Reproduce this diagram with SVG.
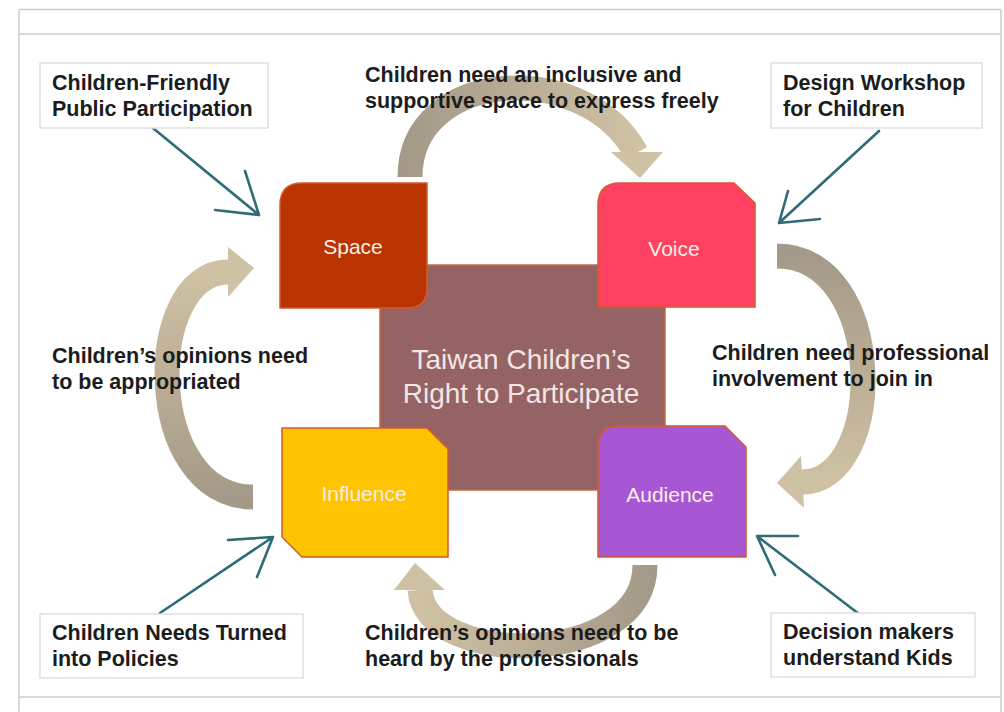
<svg xmlns="http://www.w3.org/2000/svg" width="1004" height="712" viewBox="0 0 1004 712">
  <defs>
    <style>
      .frame { stroke: #cccccc; stroke-width: 1.5; fill: none; }
      .box { fill: #ffffff; stroke: #e0e0e0; stroke-width: 1.5; }
      .lbl { font-family: "Liberation Sans", Arial, sans-serif; font-weight: bold; font-size: 21.5px; fill: #1c1c1c; }
      .nlbl { font-family: "Liberation Sans", Arial, sans-serif; font-size: 21px; fill: #fbeee8; text-anchor: middle; }
      .clbl { font-family: "Liberation Sans", Arial, sans-serif; font-size: 28px; fill: #f3e6e6; text-anchor: middle; }
      .node { stroke: #d45a30; stroke-width: 1.5; }
      .band { fill: none; stroke-width: 25; stroke-linecap: butt; }
      .head { fill: #cfc1a3; }
      .teal { fill: none; stroke: #2f6c76; stroke-width: 2.6; stroke-linecap: round; stroke-linejoin: round; }
    </style>
    <linearGradient id="gTop" gradientUnits="userSpaceOnUse" x1="410" y1="0" x2="636" y2="0">
      <stop offset="0" stop-color="#a59a89"/>
      <stop offset="1" stop-color="#cfc1a3"/>
    </linearGradient>
    <linearGradient id="gRight" gradientUnits="userSpaceOnUse" x1="0" y1="256" x2="0" y2="482">
      <stop offset="0" stop-color="#a59a89"/>
      <stop offset="1" stop-color="#cfc1a3"/>
    </linearGradient>
    <linearGradient id="gBottom" gradientUnits="userSpaceOnUse" x1="645" y1="0" x2="420" y2="0">
      <stop offset="0" stop-color="#a59a89"/>
      <stop offset="1" stop-color="#cfc1a3"/>
    </linearGradient>
    <linearGradient id="gLeft" gradientUnits="userSpaceOnUse" x1="0" y1="497" x2="0" y2="272">
      <stop offset="0" stop-color="#a59a89"/>
      <stop offset="1" stop-color="#cfc1a3"/>
    </linearGradient>
  </defs>

  <rect x="0" y="0" width="1004" height="712" fill="#ffffff"/>

  <g id="frame">
    <line class="frame" x1="19" y1="9.5" x2="1001" y2="9.5"/>
    <line class="frame" x1="19" y1="34" x2="1001" y2="34"/>
    <line class="frame" x1="19" y1="697" x2="1001" y2="697"/>
    <line class="frame" x1="19" y1="9.5" x2="19" y2="712"/>
    <line class="frame" x1="1001" y1="9.5" x2="1001" y2="712"/>
  </g>

  <g id="center">
    <rect x="380" y="265" width="285" height="225" fill="#956363" stroke="#c8683c" stroke-width="1.5"/>
    <text class="clbl" x="521" y="369">Taiwan Children’s</text>
    <text class="clbl" x="521" y="403">Right to Participate</text>
  </g>

  <g id="connectors">
    <g id="cycle">
      <path class="band" stroke="url(#gTop)" d="M410,177 C410,68 585,58 636,153"/>
      <polygon class="head" points="611,152 663,152 640,178"/>
      <path class="band" stroke="url(#gRight)" d="M777,256 C887,256 887,482 802,482"/>
      <polygon class="head" points="801,456 804,508 777,483"/>
      <path class="band" stroke="url(#gBottom)" d="M645,565 C645,668 425,668 420,590"/>
      <polygon class="head" points="394,590 445,590 415,563"/>
      <path class="band" stroke="url(#gLeft)" d="M253,497 C143,497 143,272 228,272"/>
      <polygon class="head" points="228,247 228,297 254,268"/>
    </g>
    <g id="pointers">
      <path class="teal" d="M148,124 L259,215 M245,171 L259,215 L215,210"/>
      <path class="teal" d="M879,131 L779,223 M788,191 L779,223 L820,219"/>
      <path class="teal" d="M859,614 L757,536 M798,536 L757,536 L775,575"/>
      <path class="teal" d="M160,613 L273,537 M228,540 L273,537 L257,577"/>
    </g>
  </g>

  <g id="space">
    <path class="node" fill="#b93400" d="M302,183 H427 V288 Q427,308 407,308 H280 V205 Q280,183 302,183 Z"/>
    <text class="nlbl" x="353" y="254">Space</text>
  </g>

  <g id="voice">
    <path class="node" fill="#ff4262" d="M620,183 H734 L755,203 V307 H598 V205 Q598,183 620,183 Z"/>
    <text class="nlbl" x="674" y="256">Voice</text>
  </g>

  <g id="audience">
    <path class="node" fill="#a857d4" d="M619,426 H725 L746,447 V557 H598 V447 Q598,426 619,426 Z"/>
    <text class="nlbl" x="670" y="502">Audience</text>
  </g>

  <g id="influence">
    <path class="node" fill="#ffc400" d="M282,428 H427 L448,449 V557 H302 L282,537 Z"/>
    <text class="nlbl" x="364" y="501">Influence</text>
  </g>

  <g id="label-tl">
    <rect class="box" x="40" y="63" width="228" height="65"/>
    <text class="lbl" x="52" y="90">Children-Friendly</text>
    <text class="lbl" x="52" y="116">Public Participation</text>
  </g>

  <g id="label-tr">
    <rect class="box" x="771" y="63" width="211" height="65"/>
    <text class="lbl" x="783" y="90">Design Workshop</text>
    <text class="lbl" x="783" y="116">for Children</text>
  </g>

  <g id="label-bl">
    <rect class="box" x="40" y="614" width="263" height="64"/>
    <text class="lbl" x="52" y="640">Children Needs Turned</text>
    <text class="lbl" x="52" y="666">into Policies</text>
  </g>

  <g id="label-br">
    <rect class="box" x="771" y="613" width="204" height="64"/>
    <text class="lbl" x="783" y="639">Decision makers</text>
    <text class="lbl" x="783" y="665">understand Kids</text>
  </g>

  <g id="label-top">
    <text class="lbl" x="365" y="82">Children need an inclusive and</text>
    <text class="lbl" x="365" y="108">supportive space to express freely</text>
  </g>

  <g id="label-right">
    <text class="lbl" x="712" y="360">Children need professional</text>
    <text class="lbl" x="712" y="386">involvement to join in</text>
  </g>

  <g id="label-left">
    <text class="lbl" x="52" y="363">Children’s opinions need</text>
    <text class="lbl" x="52" y="389">to be appropriated</text>
  </g>

  <g id="label-bottom">
    <text class="lbl" x="365" y="640">Children’s opinions need to be</text>
    <text class="lbl" x="365" y="666">heard by the professionals</text>
  </g>
</svg>
